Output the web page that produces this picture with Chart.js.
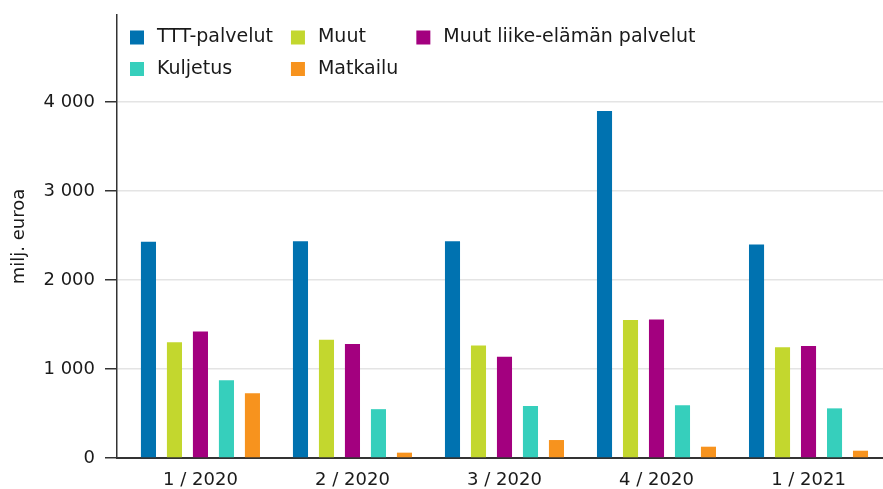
<!DOCTYPE html>
<html>
<head>
<meta charset="utf-8">
<script src="https://cdn.jsdelivr.net/npm/chart.js@4.4.0/dist/chart.umd.min.js"></script>
<style>
html,body{margin:0;padding:0;background:#fff;overflow:hidden;}
#wrap{position:relative;width:883px;height:489px;}
</style>
</head>
<body>
<div id="wrap"><canvas id="c" width="883" height="489"></canvas></div>
<script>
const categories = ['1 / 2020', '2 / 2020', '3 / 2020', '4 / 2020', '1 / 2021'];
const seriesNames = ['TTT-palvelut', 'Muut', 'Muut liike-elämän palvelut', 'Kuljetus', 'Matkailu'];
const tttPalvelut = [2430, 2438, 2438, 3902, 2401];
const muut = [1302, 1330, 1266, 1551, 1244];
const muutLiike = [1422, 1281, 1138, 1558, 1258];
const kuljetus = [875, 549, 584, 592, 558];
const matkailu = [728, 60, 202, 127, 82];
const yTickValues = [0, 1000, 2000, 3000, 4000];
const yTitle = 'milj. euroa';
const colors = ['#0072b0', '#c3d72e', '#a3007f', '#36cfbc', '#f7931e'];

const seriesValues = [tttPalvelut, muut, muutLiike, kuljetus, matkailu];
const FONT = '"DejaVu Sans", Verdana, sans-serif';
const TEXT = '#1a1a1a';

const legendPlugin = {
  id: 'gridLegend',
  afterDraw(chart) {
    const ctx = chart.ctx;
    const ds = chart.data.datasets;
    const cols = 3, box = 14, textOff = 27, colGap = 18, rowH = 31.5;
    const x0 = chart.chartArea.left + 13, y0 = 37.5;
    ctx.save();
    ctx.font = '19px ' + FONT;
    const colW = [];
    ds.forEach((d, i) => {
      const c = i % cols;
      colW[c] = Math.max(colW[c] || 0, ctx.measureText(d.label).width);
    });
    ds.forEach((d, i) => {
      const c = i % cols, r = Math.floor(i / cols);
      let x = x0;
      for (let k = 0; k < c; k++) x += textOff + colW[k] + colGap;
      const y = y0 + r * rowH;
      ctx.fillStyle = d.backgroundColor;
      ctx.fillRect(x, y - box / 2, box, box);
      ctx.fillStyle = TEXT;
      ctx.textBaseline = 'middle';
      ctx.textAlign = 'left';
      ctx.fillText(d.label, x + textOff, y);
    });
    ctx.restore();
  }
};

new Chart(document.getElementById('c'), {
  type: 'bar',
  data: {
    datasets: seriesNames.map((n, i) => ({
      label: n,
      data: seriesValues[i].map((v, j) => ({ x: j, y: v })),
      backgroundColor: colors[i],
      borderWidth: 0,
      categoryPercentage: 0.855,
      barPercentage: 0.58
    }))
  },
  options: {
    responsive: false,
    animation: false,
    layout: { padding: { top: 15, right: 0, bottom: 0, left: 0 } },
    plugins: { legend: { display: false }, tooltip: { enabled: false } },
    scales: {
      x: {
        type: 'linear',
        offset: false,
        min: -0.549,
        max: 4.49,
        afterBuildTicks: (s) => { s.ticks = categories.map((c, i) => ({ value: i })); },
        afterFit: (s) => { s.height = 31; s.paddingLeft = 0; s.paddingRight = 0; },
        grid: { display: false, drawTicks: false },
        border: { display: true, color: '#333', width: 2 },
        ticks: {
          autoSkip: false,
          maxRotation: 0,
          padding: 12,
          color: TEXT,
          font: { family: FONT, size: 18 },
          callback: (v) => categories[v]
        }
      },
      y: {
        min: 0,
        max: 4980,
        afterBuildTicks: (s) => { s.ticks = yTickValues.map(v => ({ value: v })); },
        afterFit: (s) => { s.width = 117; s.paddingTop = 0; s.paddingBottom = 0; },
        grid: { color: '#e4e4e4', lineWidth: 1.5, tickColor: '#333', tickLength: 12, tickWidth: 1.5 },
        border: { display: true, color: '#333', width: 1.5 },
        ticks: {
          padding: 10,
          color: TEXT,
          font: { family: FONT, size: 18 },
          callback: (v) => String(v).replace(/\B(?=(\d{3})+(?!\d))/g, ' ')
        },
        title: {
          display: true,
          text: yTitle,
          color: TEXT,
          font: { family: FONT, size: 18 },
          padding: { top: 9, bottom: 0 }
        }
      }
    }
  },
  plugins: [legendPlugin]
});
</script>
</body>
</html>
